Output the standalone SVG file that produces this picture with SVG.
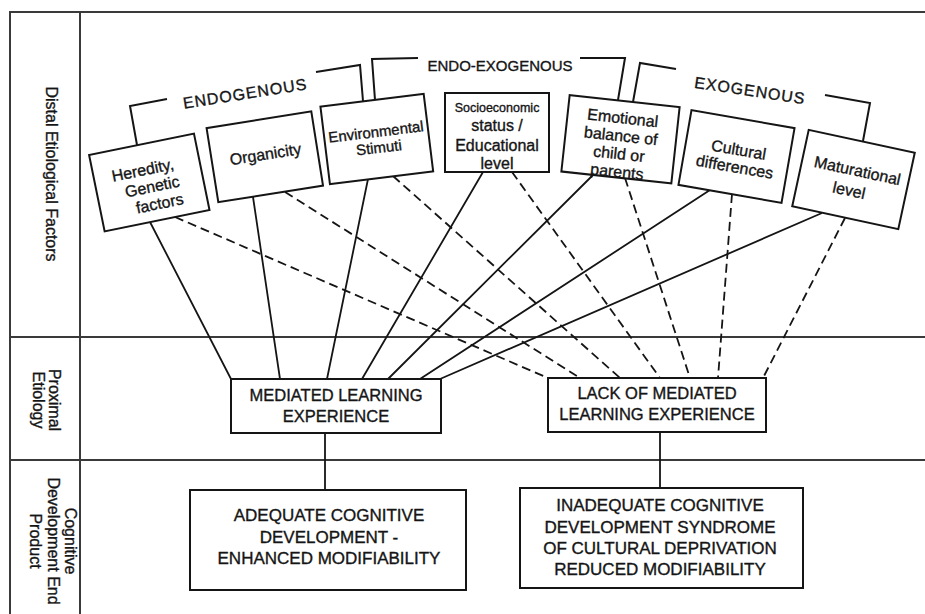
<svg xmlns="http://www.w3.org/2000/svg" width="925" height="614" viewBox="0 0 925 614">
<style>
text{font-family:"Liberation Sans",Arial,sans-serif;fill:#151515;stroke:#151515;stroke-width:0.35;text-anchor:middle}
.frame{stroke:#3a3a3a;stroke-width:2;fill:none}
.box{fill:#fff;stroke:#151515;stroke-width:2}
.s{stroke:#151515;stroke-width:1.8;fill:none}
.d{stroke:#151515;stroke-width:1.8;fill:none;stroke-dasharray:9 5}
.br{stroke:#151515;stroke-width:2;fill:none}
.t{font-size:16px}
.lab{font-size:16px}
.mid{font-size:16.5px}
.big{font-size:17px}
</style>
<rect width="925" height="614" fill="#fff"/>
<g id="frame">
<path class="frame" d="M10,614 V12 H925 M80,12 V614 M10,337 H925 M10,460 H925"/>
<text class="lab" transform="translate(52,174) rotate(90)" y="6">Distal Etiological Factors</text>
<text class="lab" transform="translate(47,400) rotate(90)"><tspan x="0" y="-2">Proximal</tspan><tspan x="0" y="14">Etiology</tspan></text>
<text class="lab" transform="translate(53,541) rotate(90)"><tspan x="0" y="-12">Cognitive</tspan><tspan x="0" y="5">Development End</tspan><tspan x="0" y="23">Product</tspan></text>
</g>
<g id="connectors">
<path class="s" d="M150,222 L231,379 M253,197 L280,379 M368,179 L327,379 M483,172 L362,379 M593,175 L388,379 M710,190 L420,379 M822,213 L440,379"/>
<path class="d" d="M175,217 L548,378 M285,192 L580,378 M393,176 L620,378 M512,172 L660,378 M625,178 L690,378 M732,194 L718,378 M845,218 L763,378"/>
<path class="s" d="M325,433 V490 M660,432 V488"/>
</g>
<g id="brackets">
<path class="br" d="M137,145 L130,106 L167,99 M316,72 L360,65 L363,101"/>
<path class="br" d="M375,100 L372,59 L418,58 M580,58 L625,58 L618,100"/>
<path class="br" d="M633,102 L640,63 L676,69 M825,95 L870,103 L863,141"/>
<text class="t" transform="translate(245,93) rotate(-9)" y="6" letter-spacing="1">ENDOGENOUS</text>
<text class="t" x="500" y="71" style="font-size:15px">ENDO-EXOGENOUS</text>
<text class="t" transform="translate(750,90) rotate(8.5)" y="6" letter-spacing="1">EXOGENOUS</text>
</g>
<g id="n-heredity" transform="translate(149.3,182.5) rotate(-11.5)">
<rect class="box" x="-53.5" y="-39" width="107" height="78"/>
<text class="t"><tspan x="-4" y="-8">Heredity,</tspan><tspan x="2" y="10">Genetic</tspan><tspan x="6" y="28">factors</tspan></text>
</g>
<g id="n-organicity" transform="translate(264.8,156.8) rotate(-9)">
<rect class="box" x="-53" y="-37.5" width="106" height="75"/>
<text class="t" x="1" y="3">Organicity</text>
</g>
<g id="n-environmental" transform="translate(376.8,139) rotate(-7)">
<rect class="box" x="-52" y="-39" width="104" height="78"/>
<text class="t" style="font-size:15px"><tspan x="0" y="-2">Environmental</tspan><tspan x="1" y="14">Stimuti</tspan></text>
</g>
<g id="n-socioeconomic" transform="translate(497,132.5)">
<rect class="box" x="-52" y="-39.5" width="104" height="79"/>
<text class="t"><tspan x="0" y="-20.5" style="font-size:12.5px">Socioeconomic</tspan><tspan x="0" y="-1.5">status /</tspan><tspan x="0" y="18.5">Educational</tspan><tspan x="0" y="36.5">level</tspan></text>
</g>
<g id="n-emotional" transform="translate(620.5,139.3) rotate(6.2)">
<rect class="box" x="-55.3" y="-38.4" width="110.6" height="76.8"/>
<text class="t"><tspan x="0" y="-16">Emotional</tspan><tspan x="0" y="2">balance of</tspan><tspan x="0" y="20">child or</tspan><tspan x="0" y="38">parents</tspan></text>
</g>
<g id="n-cultural" transform="translate(736.5,156.5) rotate(9.9)">
<rect class="box" x="-52.3" y="-37.9" width="104.6" height="75.8"/>
<text class="t"><tspan x="1" y="-1.5">Cultural</tspan><tspan x="0" y="16">differences</tspan></text>
</g>
<g id="n-maturational" transform="translate(853.5,179.5) rotate(12.2)">
<rect class="box" x="-54.25" y="-39" width="108.5" height="78"/>
<text class="t"><tspan x="2" y="-4">Maturational</tspan><tspan x="-2" y="17">level</tspan></text>
</g>
<g id="n-mle">
<rect class="box" x="231" y="379" width="210" height="54"/>
<text class="mid"><tspan x="336" y="401">MEDIATED LEARNING</tspan><tspan x="336" y="422">EXPERIENCE</tspan></text>
</g>
<g id="n-lmle">
<rect class="box" x="548" y="378" width="218" height="54"/>
<text class="mid"><tspan x="657" y="399">LACK OF MEDIATED</tspan><tspan x="657" y="420">LEARNING EXPERIENCE</tspan></text>
</g>
<g id="n-adequate">
<rect class="box" x="190" y="490" width="276" height="100"/>
<text class="big"><tspan x="329" y="521">ADEQUATE COGNITIVE</tspan><tspan x="329" y="543">DEVELOPMENT -</tspan><tspan x="329" y="564">ENHANCED MODIFIABILITY</tspan></text>
</g>
<g id="n-inadequate">
<rect class="box" x="520" y="488" width="283" height="100"/>
<text class="big"><tspan x="660" y="511">INADEQUATE COGNITIVE</tspan><tspan x="660" y="533">DEVELOPMENT SYNDROME</tspan><tspan x="660" y="554">OF CULTURAL DEPRIVATION</tspan><tspan x="660" y="575">REDUCED MODIFIABILITY</tspan></text>
</g>
</svg>
